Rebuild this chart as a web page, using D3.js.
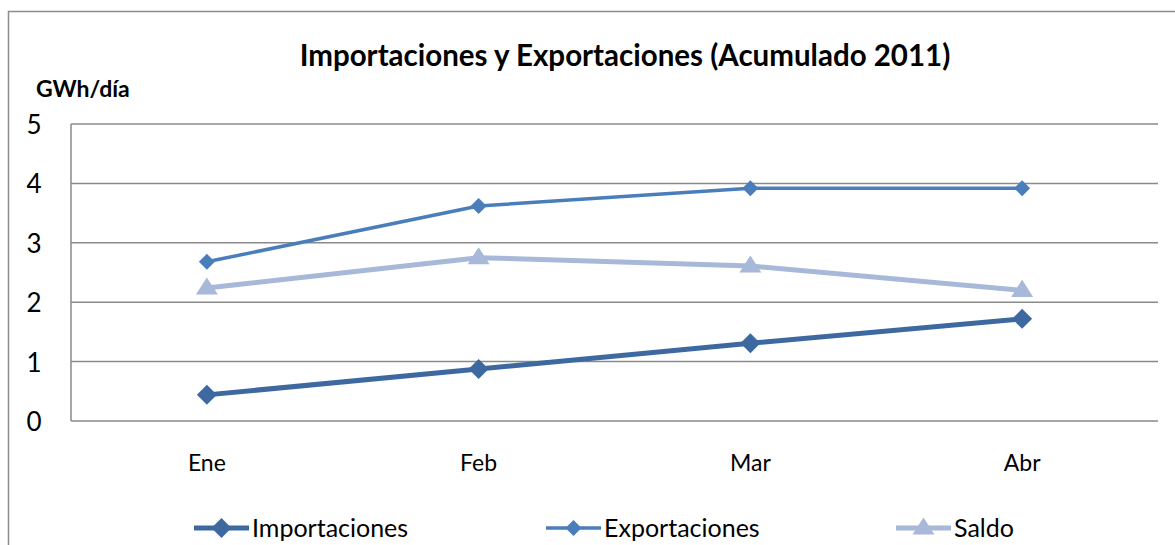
<!DOCTYPE html>
<html>
<head>
<meta charset="utf-8">
<script src="https://cdn.jsdelivr.net/npm/d3@7"></script>
<style>
  body { margin: 0; background: #fff; }
  text { font-family: Lato, 'Open Sans', sans-serif; fill: #000; }
</style>
</head>
<body>
<svg id="chart" width="1175" height="545"></svg>
<script>
const months = ['Ene', 'Feb', 'Mar', 'Abr']
const importaciones = [0.44, 0.875, 1.31, 1.72]
const exportaciones = [2.68, 3.62, 3.92, 3.92]
const saldo = [2.24, 2.75, 2.61, 2.2]
const yTicks = [0, 1, 2, 3, 4, 5]

const series = [
  { name: 'Importaciones', values: importaciones, color: '#3e69a0', width: 5, marker: 'diamond', size: 10 },
  { name: 'Exportaciones', values: exportaciones, color: '#4a7ebb', width: 3.5, marker: 'diamond', size: 8 },
  { name: 'Saldo', values: saldo, color: '#a7b8d8', width: 5, marker: 'triangle', size: 11 }
]

const margin = { top: 124, left: 71, right: 17, bottom: 124 }
const width = 1175 - margin.left - margin.right
const height = 545 - margin.top - margin.bottom

const svg = d3.select('#chart')

// outer chart frame
svg.append('rect')
  .attr('x', 8.5).attr('y', 11.5)
  .attr('width', 1200).attr('height', 600)
  .attr('fill', 'none')
  .attr('stroke', '#8c8c8c')
  .attr('stroke-width', 1.5)

const g = svg.append('g').attr('transform', `translate(${margin.left},${margin.top})`)

const x = d3.scaleBand().domain(months).range([0, width])
const y = d3.scaleLinear().domain([0, 5]).range([height, 0])

// gridlines
g.append('g')
  .selectAll('line')
  .data(yTicks)
  .join('line')
  .attr('x1', 0).attr('x2', width)
  .attr('y1', (d) => y(d)).attr('y2', (d) => y(d))
  .attr('stroke', '#8a8a8a')
  .attr('stroke-width', 1.5)

// vertical axis line
g.append('line')
  .attr('x1', 0).attr('x2', 0)
  .attr('y1', 0).attr('y2', height)
  .attr('stroke', '#8a8a8a')
  .attr('stroke-width', 1.5)

// y labels
g.append('g')
  .selectAll('text')
  .data(yTicks)
  .join('text')
  .attr('x', -37)
  .attr('y', (d) => y(d) + 10)
  .attr('text-anchor', 'middle')
  .style('font-size', '26px')
  .text((d) => d)

// x labels
g.append('g')
  .selectAll('text')
  .data(months)
  .join('text')
  .attr('x', (d) => x(d) + x.bandwidth() / 2)
  .attr('y', height + 50)
  .attr('text-anchor', 'middle')
  .style('font-size', '23px')
  .text((d) => d)

const markerPath = (s) => {
  const r = s.size
  if (s.marker === 'diamond') {
    return `M0,${-r}L${r},0L0,${r}L${-r},0Z`
  }
  return `M0,${-r * 0.95}L${r},${r * 0.6}L${-r},${r * 0.6}Z`
}

const line = d3.line()
  .x((d, i) => x(months[i]) + x.bandwidth() / 2)
  .y((d) => y(d))

series.forEach((s) => {
  const sg = g.append('g')
  sg.append('path')
    .attr('d', line(s.values))
    .attr('fill', 'none')
    .attr('stroke', s.color)
    .attr('stroke-width', s.width)
    .attr('stroke-linejoin', 'round')
  sg.selectAll('path.m')
    .data(s.values)
    .join('path')
    .attr('class', 'm')
    .attr('transform', (d, i) => `translate(${x(months[i]) + x.bandwidth() / 2},${y(d)})`)
    .attr('d', markerPath(s))
    .attr('fill', s.color)
})

// title
svg.append('text')
  .attr('x', 625).attr('y', 66)
  .attr('text-anchor', 'middle')
  .style('font-size', '29.5px')
  .style('font-weight', 'bold')
  .text('Importaciones y Exportaciones (Acumulado 2011)')

svg.append('text')
  .attr('x', 36).attr('y', 97)
  .style('font-size', '23px')
  .style('font-weight', 'bold')
  .text('GWh/día')

// legend
const legendX = [194, 546, 896]
const legend = svg.append('g')
  .selectAll('g')
  .data(series)
  .join('g')
  .attr('transform', (d, i) => `translate(${legendX[i]},528)`)
legend.append('line')
  .attr('x1', 0).attr('x2', 55)
  .attr('stroke', (d) => d.color)
  .attr('stroke-width', (d) => d.width)
legend.append('path')
  .attr('transform', 'translate(27.5,0)')
  .attr('d', (d) => markerPath(d))
  .attr('fill', (d) => d.color)
legend.append('text')
  .attr('x', 58).attr('y', 9)
  .style('font-size', '25px')
  .text((d) => d.name)
</script>
</body>
</html>
